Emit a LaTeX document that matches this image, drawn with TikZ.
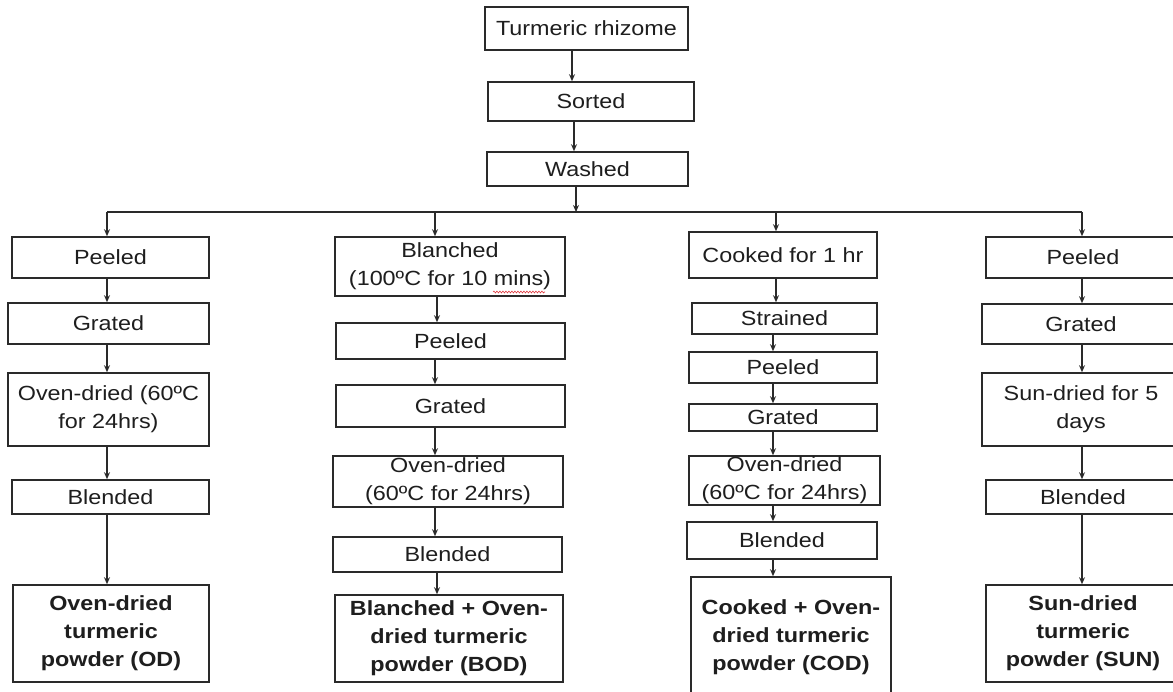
\documentclass[tikz,border=0pt]{standalone}
\usepackage{fontspec}
\setmainfont[FakeStretch=1.14]{Liberation Sans}
\usetikzlibrary{arrows.meta,decorations.pathmorphing}
\definecolor{ink}{HTML}{1E1E1E}
\definecolor{edge}{HTML}{2A2A2A}
\definecolor{spell}{HTML}{E0393E}

\begin{document}
\begin{tikzpicture}[x=1pt,y=-1pt]
 \tikzstyle{stepbox}=[rectangle,draw=edge,line width=1.6pt,inner sep=0pt,align=center,text=ink,fill=white,font=\fontsize{20.5}{28}\selectfont]
 \tikzstyle{endbox}=[stepbox,font=\fontsize{20.5}{28}\selectfont\bfseries]
 \tikzstyle{flow}=[-{Stealth[length=7pt,width=6pt]},draw=edge,line width=1.1pt]
 \useasboundingbox (0,0) rectangle (1173,691);
 \clip (0,0) rectangle (1173,691);
 % common start
 \node[stepbox,minimum width=203pt,minimum height=43pt] (rhizome) at (586.5,28.5) {Turmeric rhizome};
 \node[stepbox,minimum width=206pt,minimum height=39pt] (sorted) at (591,101.5) {Sorted};
 \node[stepbox,minimum width=201pt,minimum height=34pt] (washed) at (587.5,169) {Washed};
 \coordinate (split) at (576,212);
 \coordinate (colOD) at (107,212);
 \coordinate (colBOD) at (435,212);
 \coordinate (colCOD) at (776,212);
 \coordinate (colSUN) at (1082,212);
 % OD route
 \node[stepbox,minimum width=197pt,minimum height=41pt] (peelOD) at (110.5,257.5) {Peeled};
 \node[stepbox,minimum width=201pt,minimum height=41pt] (grateOD) at (108.5,323.5) {Grated};
 \node[stepbox,minimum width=201pt,minimum height=73pt] (ovenOD) at (108.5,409.5) {Oven-dried (60ºC\\for 24hrs)};
 \node[stepbox,minimum width=197pt,minimum height=34pt] (blendOD) at (110.5,497) {Blended};
 \node[endbox,minimum width=196pt,minimum height=97pt] (powderOD) at (111,633.5) {Oven-dried\\turmeric\\powder (OD)};
 % BOD route
 \node[stepbox,minimum width=230pt,minimum height=59pt] (blanchBOD) at (450,266.5) {Blanched\\(100ºC for 10 mins)};
 \node[stepbox,minimum width=229pt,minimum height=36pt] (peelBOD) at (450.5,341) {Peeled};
 \node[stepbox,minimum width=229pt,minimum height=42pt] (grateBOD) at (450.5,406) {Grated};
 \node[stepbox,minimum width=230pt,minimum height=51pt] (ovenBOD) at (448,481.5) {Oven-dried\\(60ºC for 24hrs)};
 \node[stepbox,minimum width=229pt,minimum height=35pt] (blendBOD) at (447.5,554.5) {Blended};
 \node[endbox,minimum width=228pt,minimum height=87pt] (powderBOD) at (449,638.5) {Blanched + Oven-\\dried turmeric\\powder (BOD)};
 \draw[spell,line width=0.6pt,decorate,decoration={snake,amplitude=0.9pt,segment length=3pt}] (493,292) -- (545,292);
 % COD route
 \node[stepbox,minimum width=188pt,minimum height=46pt] (cookCOD) at (783,255) {Cooked for 1 hr};
 \node[stepbox,minimum width=185pt,minimum height=31pt] (strainCOD) at (784.5,318.5) {Strained};
 \node[stepbox,minimum width=188pt,minimum height=31pt] (peelCOD) at (783,367.5) {Peeled};
 \node[stepbox,minimum width=188pt,minimum height=27pt] (grateCOD) at (783,417.5) {Grated};
 \node[stepbox,minimum width=191pt,minimum height=49pt] (ovenCOD) at (784.5,480.5) {Oven-dried\\(60ºC for 24hrs)};
 \node[stepbox,minimum width=190pt,minimum height=37pt] (blendCOD) at (782,540.5) {Blended};
 \node[endbox,minimum width=200pt,minimum height=120pt] (powderCOD) at (791,637) {Cooked + Oven-\\dried turmeric\\powder (COD)};
 % SUN route
 \node[stepbox,minimum width=194pt,minimum height=41pt] (peelSUN) at (1083,257.5) {Peeled};
 \node[stepbox,minimum width=198pt,minimum height=40pt] (grateSUN) at (1081,324) {Grated};
 \node[stepbox,minimum width=198pt,minimum height=73pt] (sunSUN) at (1081,409.5) {Sun-dried for 5\\days};
 \node[stepbox,minimum width=194pt,minimum height=34pt] (blendSUN) at (1083,497) {Blended};
 \node[endbox,minimum width=194pt,minimum height=97pt] (powderSUN) at (1083,633.5) {Sun-dried\\turmeric\\powder (SUN)};
 % arrows
 \draw[flow] (rhizome.south -| 572,0) -- (sorted.north -| 572,0);
 \draw[flow] (sorted.south -| 574,0) -- (washed.north -| 574,0);
 \draw[flow] (washed.south -| split) -- (split);
 \draw[draw=edge,line width=1.3pt] (colOD) -- (colSUN);
 \draw[flow] (colOD) -- (peelOD.north -| colOD);
 \draw[flow] (colBOD) -- (blanchBOD.north -| colBOD);
 \draw[flow] (colCOD) -- (cookCOD.north -| colCOD);
 \draw[flow] (colSUN) -- (peelSUN.north -| colSUN);
 \draw[flow] (peelOD.south -| colOD) -- (grateOD.north -| colOD);
 \draw[flow] (grateOD.south -| colOD) -- (ovenOD.north -| colOD);
 \draw[flow] (ovenOD.south -| colOD) -- (blendOD.north -| colOD);
 \draw[flow] (blendOD.south -| colOD) -- (powderOD.north -| colOD);
 \draw[flow] (blanchBOD.south -| 437,0) -- (peelBOD.north -| 437,0);
 \draw[flow] (peelBOD.south -| colBOD) -- (grateBOD.north -| colBOD);
 \draw[flow] (grateBOD.south -| colBOD) -- (ovenBOD.north -| colBOD);
 \draw[flow] (ovenBOD.south -| colBOD) -- (blendBOD.north -| colBOD);
 \draw[flow] (blendBOD.south -| 437,0) -- (powderBOD.north -| 437,0);
 \draw[flow] (cookCOD.south -| colCOD) -- (strainCOD.north -| colCOD);
 \draw[flow] (strainCOD.south -| 773,0) -- (peelCOD.north -| 773,0);
 \draw[flow] (peelCOD.south -| 773,0) -- (grateCOD.north -| 773,0);
 \draw[flow] (grateCOD.south -| 773,0) -- (ovenCOD.north -| 773,0);
 \draw[flow] (ovenCOD.south -| 773,0) -- (blendCOD.north -| 773,0);
 \draw[flow] (blendCOD.south -| 773,0) -- (powderCOD.north -| 773,0);
 \draw[flow] (peelSUN.south -| colSUN) -- (grateSUN.north -| colSUN);
 \draw[flow] (grateSUN.south -| colSUN) -- (sunSUN.north -| colSUN);
 \draw[flow] (sunSUN.south -| colSUN) -- (blendSUN.north -| colSUN);
 \draw[flow] (blendSUN.south -| colSUN) -- (powderSUN.north -| colSUN);
\end{tikzpicture}
\end{document}
